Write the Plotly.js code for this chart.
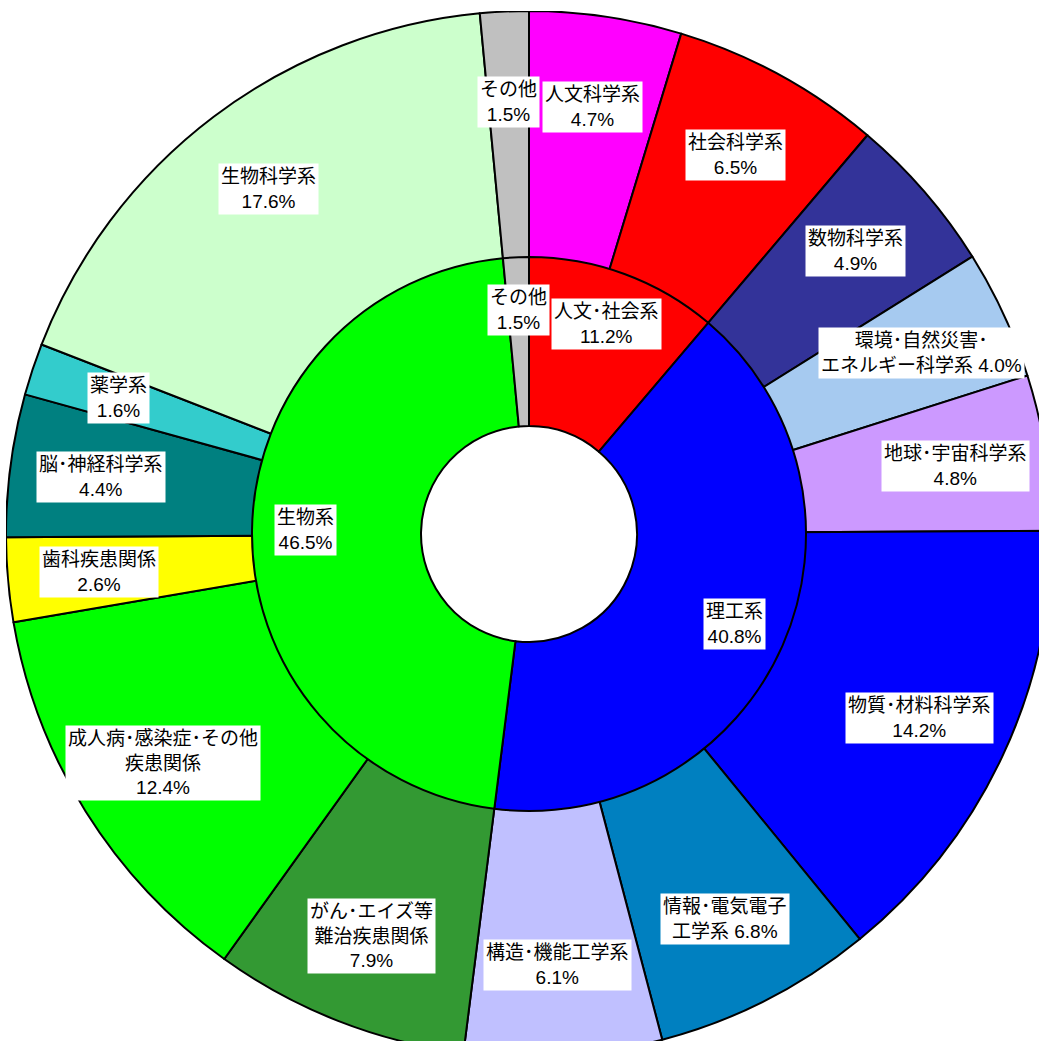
<!DOCTYPE html>
<html>
<head>
<meta charset="utf-8">
<script src="https://cdn.plot.ly/plotly-3.0.1.min.js"></script>
<style>
html, body { margin: 0; padding: 0; overflow: hidden; background: #ffffff; width: 1039px; height: 1041px; }
#chart { position: absolute; }
</style>
</head>
<body>
<div id="chart"></div>
<script>
// ---- data ----
const outerNames = ["人文科学系", "社会科学系", "数物科学系", "環境･自然災害･エネルギー科学系", "地球･宇宙科学系",
  "物質･材料科学系", "情報･電気電子工学系", "構造･機能工学系", "がん･エイズ等難治疾患関係",
  "成人病･感染症･その他疾患関係", "歯科疾患関係", "脳･神経科学系", "薬学系", "生物科学系", "その他"];
const outerValues = [4.7, 6.5, 4.9, 4.0, 4.8, 14.2, 6.8, 6.1, 7.9, 12.4, 2.6, 4.4, 1.6, 17.6, 1.5];
const outerText = ["人文科学系<br>{v}%", "社会科学系<br>{v}%", "数物科学系<br>{v}%", "環境･自然災害･<br>エネルギー科学系 {v}%",
  "地球･宇宙科学系<br>{v}%", "物質･材料科学系<br>{v}%", "情報･電気電子<br>工学系 {v}%", "構造･機能工学系<br>{v}%",
  "がん･エイズ等<br>難治疾患関係<br>{v}%", "成人病･感染症･その他<br>疾患関係<br>{v}%", "歯科疾患関係<br>{v}%",
  "脳･神経科学系<br>{v}%", "薬学系<br>{v}%", "生物科学系<br>{v}%", "その他<br>{v}%"];
const outerColors = ["#FF00FF", "#FF0000", "#333399", "#A6CAF0", "#CC99FF", "#0000FF", "#0080C0", "#C0C0FF",
  "#339933", "#00FF00", "#FFFF00", "#008080", "#33CCCC", "#CCFFCC", "#C0C0C0"];

const innerNames = ["人文･社会系", "理工系", "生物系", "その他"];
const innerValues = [11.2, 40.8, 46.5, 1.5];
const innerColors = ["#FF0000", "#0000FF", "#00FF00", "#C0C0C0"];

// ---- geometry (layout) ----
const R = 523, rInner = 277, rHole = 108;
const cx = 529, cy = 534;
const S = 2 * R;
const el = document.getElementById('chart');
el.style.left = (cx - R) + 'px';
el.style.top = (cy - R) + 'px';
el.style.width = S + 'px';
el.style.height = S + 'px';

const f = rInner / S;
const lineStyle = { color: '#000000', width: 2 };

const traces = [
  {
    type: 'pie', labels: outerNames, values: outerValues, sort: false, direction: 'clockwise', rotation: 0,
    hole: 0.5, marker: { colors: outerColors, line: lineStyle }, textinfo: 'none', hoverinfo: 'label+percent',
    domain: { x: [0, 1], y: [0, 1] }, showlegend: false
  },
  {
    type: 'pie', labels: innerNames, values: innerValues, sort: false, direction: 'clockwise', rotation: 0,
    hole: rHole / rInner, marker: { colors: innerColors, line: lineStyle }, textinfo: 'none', hoverinfo: 'label+percent',
    domain: { x: [0.5 - f, 0.5 + f], y: [0.5 - f, 0.5 + f] }, showlegend: false
  }
];

function labelAnnotations(values, texts, rl) {
  const total = values.reduce((a, b) => a + b, 0);
  let cum = 0;
  return values.map((v, i) => {
    const mid = (cum + v / 2) / total * 2 * Math.PI;
    cum += v;
    return {
      xref: 'paper', yref: 'paper',
      x: 0.5 + rl * Math.sin(mid) / S,
      y: 0.5 + rl * Math.cos(mid) / S,
      text: texts[i].replace('{v}', v.toFixed(1)),
      showarrow: false, xanchor: 'center', yanchor: 'middle',
      bgcolor: '#FFFFFF', borderpad: 2,
      font: { family: 'Liberation Sans, Noto Sans CJK JP, sans-serif', size: 19, color: '#000000' }
    };
  });
}

const innerText = innerNames.map(n => n + '<br>{v}%');
const annotations = labelAnnotations(outerValues, outerText, 432)
  .concat(labelAnnotations(innerValues, innerText, 224));

const layout = {
  width: S, height: S,
  margin: { l: 0, r: 0, t: 0, b: 0, pad: 0 },
  paper_bgcolor: '#FFFFFF', plot_bgcolor: '#FFFFFF',
  showlegend: false,
  annotations: annotations
};

Plotly.newPlot(el, traces, layout, { staticPlot: true, displayModeBar: false });
</script>
</body>
</html>
